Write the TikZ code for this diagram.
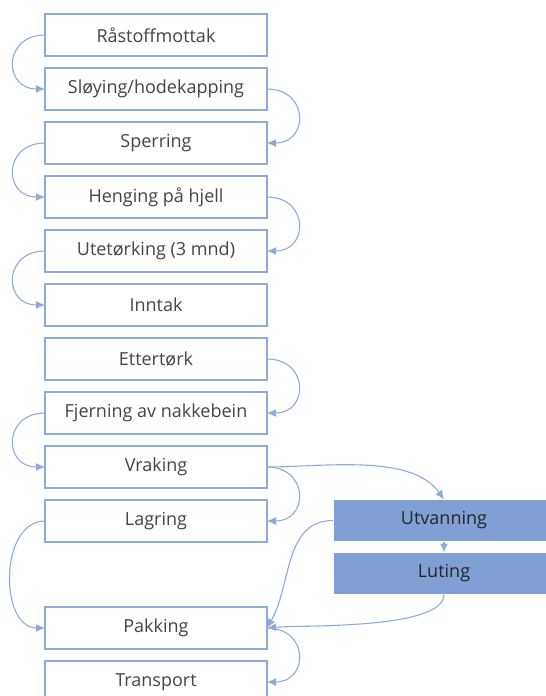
\documentclass[tikz,border=0pt]{standalone}
\usepackage{fontspec}
\setmainfont{Open Sans}
\usetikzlibrary{arrows.meta,positioning}
\definecolor{boxline}{HTML}{8EAADB}
\definecolor{boxfill}{HTML}{7F9FD5}
\definecolor{txtgray}{HTML}{444444}
\tikzset{font=\fontsize{18}{21}\selectfont}
\tikzset{stage/.style={draw=boxline,line width=1.1pt,fill=white,text=txtgray,
    minimum width=222pt,minimum height=42pt,inner sep=0pt,outer sep=0pt}}
\tikzset{sidestage/.style={stage,draw=white,fill=boxfill,text=black!85}}
\tikzset{flow/.style={draw=boxline,line width=1.1pt,-{Latex[length=9pt,width=8pt]}}}

\begin{document}
\begin{tikzpicture}[x=1pt,y=1pt]
  \useasboundingbox (0,0) rectangle (546,-696);
  \node[stage] (raa) at (156,-35) {Råstoffmottak};
  \node[stage,below=12pt of raa] (sloy) {Sløying/hodekapping};
  \node[stage,below=12pt of sloy] (sper) {Sperring};
  \node[stage,below=12pt of sper] (heng) {Henging på hjell};
  \node[stage,below=12pt of heng] (ute) {Utetørking (3 mnd)};
  \node[stage,below=12pt of ute] (inn) {Inntak};
  \node[stage,below=12pt of inn] (ett) {Ettertørk};
  \node[stage,below=12pt of ett] (fjern) {Fjerning av nakkebein};
  \node[stage,below=12pt of fjern] (vrak) {Vraking};
  \node[stage,below=12pt of vrak] (lag) {Lagring};
  \node[stage,below=65pt of lag] (pakk) {Pakking};
  \node[stage,below=12pt of pakk] (trans) {Transport};
  \node[sidestage] (utv) at (444,-520.5) {Utvanning};
  \node[sidestage,below=11pt of utv] (lut) {Luting};

  \draw[flow] (raa.west) to[out=180,in=180,looseness=2] (sloy.west);
  \draw[flow] (sloy.east) to[out=0,in=0,looseness=2] (sper.east);
  \draw[flow] (sper.west) to[out=180,in=180,looseness=2] (heng.west);
  \draw[flow] (heng.east) to[out=0,in=0,looseness=2] (ute.east);
  \draw[flow] (ute.west) to[out=180,in=180,looseness=2] (inn.west);
  \draw[flow] (ett.east) to[out=0,in=0,looseness=2] (fjern.east);
  \draw[flow] (fjern.west) to[out=180,in=180,looseness=2] (vrak.west);
  \draw[flow] (vrak.east) to[out=0,in=0,looseness=2] (lag.east);
  \draw[flow] (vrak.east) to[out=0,in=125,looseness=0.8] (utv.north);
  \draw[flow] (lag.west) to[out=180,in=180,looseness=1.1] (pakk.west);
  \draw[flow] (utv.south) -- (lut.north);
  \draw[flow] (utv.west) to[out=180,in=60] (pakk.east);
  \draw[flow] (lut.south) to[out=-90,in=5,looseness=0.5] (pakk.east);
  \draw[flow] (pakk.east) to[out=0,in=0,looseness=2] (trans.east);
\end{tikzpicture}
\end{document}
